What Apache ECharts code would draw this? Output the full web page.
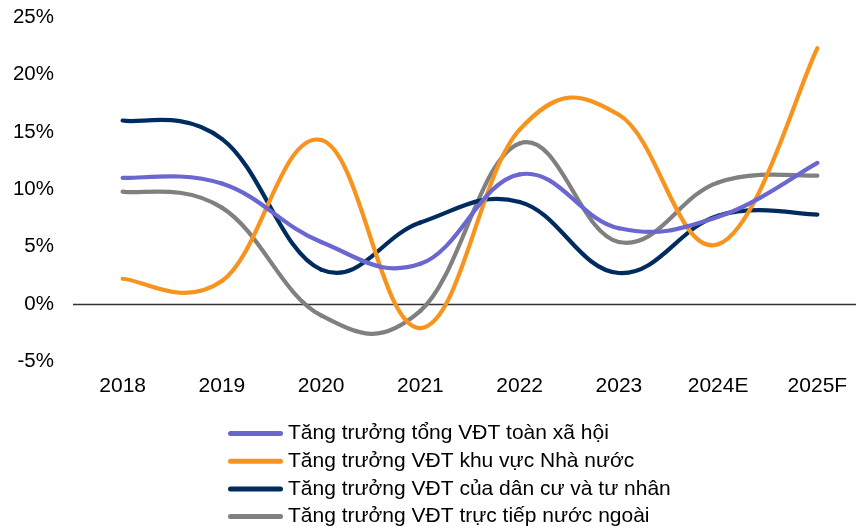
<!DOCTYPE html>
<html>
<head>
<meta charset="utf-8">
<script src="https://cdn.jsdelivr.net/npm/echarts@6/dist/echarts.min.js"></script>
<style>html,body{margin:0;padding:0;background:#fff;}#c{width:856px;height:530px;}</style>
</head>
<body>
<div id="c"></div>
<script>
const categories = ['2018', '2019', '2020', '2021', '2022', '2023', '2024E', '2025F'];
const yTicks = [-5, 0, 5, 10, 15, 20, 25];
const seriesNames = [
  'Tăng trưởng tổng VĐT toàn xã hội',
  'Tăng trưởng VĐT khu vực Nhà nước',
  'Tăng trưởng VĐT của dân cư và tư nhân',
  'Tăng trưởng VĐT trực tiếp nước ngoài'
];
const totalGrowth   = [11.0, 10.5, 5.4, 3.5, 11.3, 6.6, 7.6, 12.3];
const stateGrowth   = [2.2, 2.0, 14.3, -2.1, 15.2, 16.5, 5.2, 22.3];
const privateGrowth = [16.0, 14.4, 3.0, 7.1, 8.9, 2.7, 7.7, 7.8];
const fdiGrowth     = [9.8, 8.4, -1.0, -0.6, 14.0, 5.4, 10.6, 11.2];
const colors = ['#6B67D0', '#F7941D', '#002B5F', '#808080'];
const dataSets = [totalGrowth, stateGrowth, privateGrowth, fdiGrowth];

const font = '"Liberation Sans", Arial, sans-serif';
const chart = echarts.init(document.getElementById('c'), null, {renderer: 'canvas'});

// Smooth line (cardinal spline, like spreadsheet smoothed lines) drawn via the axes' scales
const TENSION = 1 / 5;
function smoothRenderer(values, color) {
  return function (params, api) {
    if (params.dataIndex !== 0) return null;
    const pts = values.map((v, i) => api.coord([i, v]));
    const n = pts.length;
    const children = [];
    for (let i = 0; i < n - 1; i++) {
      const p0 = pts[i - 1] || pts[i];
      const p1 = pts[i];
      const p2 = pts[i + 1];
      const p3 = pts[i + 2] || pts[i + 1];
      children.push({
        type: 'bezierCurve',
        shape: {
          x1: p1[0], y1: p1[1], x2: p2[0], y2: p2[1],
          cpx1: p1[0] + (p2[0] - p0[0]) * TENSION, cpy1: p1[1] + (p2[1] - p0[1]) * TENSION,
          cpx2: p2[0] - (p3[0] - p1[0]) * TENSION, cpy2: p2[1] - (p3[1] - p1[1]) * TENSION
        },
        style: {stroke: color, lineWidth: 4.2, fill: null, lineCap: 'round', lineJoin: 'round'}
      });
    }
    return {type: 'group', children: children};
  };
}

const series = dataSets.map((d, i) => ({
  name: seriesNames[i],
  type: 'custom',
  data: d,
  z: 10 - i,
  clip: false,
  renderItem: smoothRenderer(d, colors[i]),
  itemStyle: {color: colors[i]}
}));
series.push({
  name: 'zero',
  type: 'line',
  data: categories.map(() => 0),
  symbol: 'none',
  silent: true,
  lineStyle: {width: 0, opacity: 0},
  z: 1,
  markLine: {
    silent: true,
    symbol: 'none',
    label: {show: false},
    lineStyle: {color: '#333', width: 1.3, type: 'solid'},
    data: [{yAxis: 0}]
  }
});

chart.setOption({
  animation: false,
  backgroundColor: '#fff',
  grid: {left: 73, width: 794, top: 17.3, height: 344, containLabel: false, outerBoundsMode: 'none'},
  xAxis: {
    type: 'category',
    data: categories,
    boundaryGap: true,
    axisLine: {show: false},
    axisTick: {show: false},
    axisLabel: {color: '#000', fontSize: 21, fontFamily: font, margin: 14}
  },
  yAxis: {
    type: 'value',
    min: yTicks[0],
    max: yTicks[yTicks.length - 1],
    interval: 5,
    splitLine: {show: false},
    axisLine: {show: false},
    axisTick: {show: false},
    axisLabel: {color: '#000', fontSize: 20.5, fontFamily: font, margin: 19, formatter: v => v + '%'}
  },
  legend: {
    orient: 'vertical',
    left: 228,
    top: 423,
    padding: 0,
    itemWidth: 55,
    itemHeight: 14,
    itemGap: 6.7,
    data: seriesNames.map((n, i) => ({name: n, icon: 'path://M2.5,0 L52.5,0 A2.5,2.5 0 0 1 52.5,5 L2.5,5 A2.5,2.5 0 0 1 2.5,0 Z', itemStyle: {color: colors[i]}})),
    textStyle: {color: '#000', fontSize: 21, fontFamily: font, padding: [0, 0, 0, 0]}
  },
  series: series
});
</script>
</body>
</html>
